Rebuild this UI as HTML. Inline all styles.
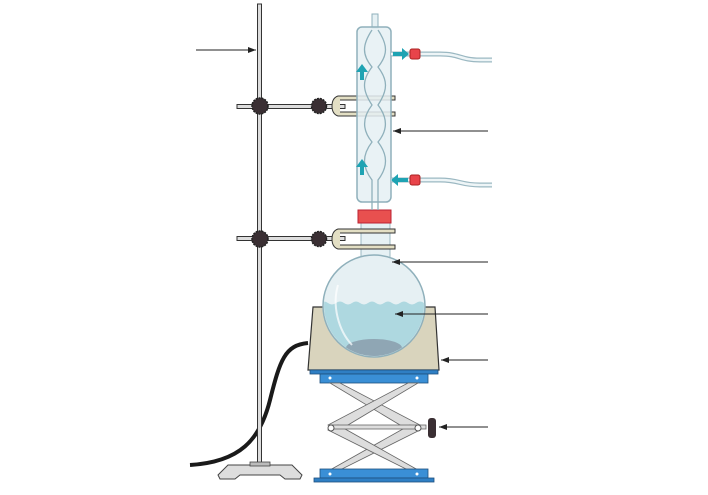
<!DOCTYPE html>
<html><head><meta charset="utf-8"><style>html,body{margin:0;padding:0;background:#fff}svg{display:block}</style></head>
<body>
<svg width="708" height="495" viewBox="0 0 708 495" xmlns="http://www.w3.org/2000/svg">
<defs>
<marker id="ah" markerWidth="8" markerHeight="6" refX="8" refY="3" orient="auto" markerUnits="userSpaceOnUse"><path d="M0,0 L8,3 L0,6 z" fill="#222"/></marker>
</defs>
<!-- cable -->
<path d="M308,343 C285,345 280,360 270,400 C260,440 240,462 190,465" fill="none" stroke="#1a1a1a" stroke-width="4"/>
<!-- stand rod -->
<rect x="257.5" y="4" width="4" height="462" fill="#ddd" stroke="#333" stroke-width="1"/>
<path d="M218,475 L228,465 L292,465 L302,475 L300,479 L285,479 L280,475 L240,475 L235,479 L220,479 Z" fill="#ddd" stroke="#444" stroke-width="1"/>
<rect x="250" y="462" width="20" height="4" fill="#bbb" stroke="#444" stroke-width="0.8"/>
<!-- clamp rods -->
<g stroke="#333" stroke-width="1" fill="#ddd">
<rect x="237" y="104.5" width="108" height="4"/>
<rect x="237" y="236.5" width="108" height="4"/>
</g>
<g fill="#3a2f33" stroke="#222" stroke-width="1.5" stroke-dasharray="2 1">
<circle cx="260" cy="106" r="8"/><circle cx="319" cy="106" r="7.5"/>
<circle cx="260" cy="239" r="8"/><circle cx="319" cy="239" r="7.5"/>
</g>
<!-- flask -->
<rect x="361" y="218" width="29" height="40" fill="#e6f1f4" stroke="#9bb8c2" stroke-width="1"/>
<!-- hot plate -->
<path d="M313,307 L435,307 L439,370 L308,370 Z" fill="#d9d4bd" stroke="#333" stroke-width="1.2"/>
<clipPath id="fl"><circle cx="374" cy="306" r="50"/></clipPath>
<circle cx="374" cy="306" r="51" fill="#e6f0f3" stroke="#8fb0bb" stroke-width="1.5"/>
<g clip-path="url(#fl)">
<path d="M320,303 q4,-3 8,0 q4,3 8,0 q4,-3 8,0 q4,3 8,0 q4,-3 8,0 q4,3 8,0 q4,-3 8,0 q4,3 8,0 q4,-3 8,0 q4,3 8,0 q4,-3 8,0 q4,3 8,0 q4,-3 8,0 L430,360 L320,360 Z" fill="#aed8e0"/>
<ellipse cx="374" cy="348" rx="28" ry="9" fill="#8fa6b4"/>
</g>
<path d="M338,285 C332,305 338,330 352,345" fill="none" stroke="#fff" stroke-width="2" opacity="0.7"/>
<!-- red stopper -->
<rect x="358" y="210" width="33" height="13" fill="#e8504f" stroke="#b23" stroke-width="1"/>
<!-- clamp forks -->
<g stroke="#333" stroke-width="1">
<path d="M340,100 L395,100 L395,96 L338,96 Q332,98 332,106 Q332,114 338,116 L395,116 L395,112 L340,112" fill="#e3dfc4"/>
<path d="M340,233 L395,233 L395,229 L338,229 Q332,231 332,239 Q332,247 338,249 L395,249 L395,245 L340,245" fill="#e3dfc4"/>
</g>
<!-- condenser -->
<rect x="372" y="14" width="6" height="14" fill="#e6f1f4" stroke="#8fb0bb"/>
<rect x="357" y="27" width="34" height="175" rx="5" fill="#e5f0f3" stroke="#8fb0bb" stroke-width="1.5" fill-opacity="0.85"/>
<path d="M372,30 C362,45 362,55 372,67 C362,80 362,90 372,105 C362,118 362,130 372,142 C362,155 362,167 372,180 L372,210 M378,30 C388,45 388,55 378,67 C388,80 388,90 378,105 C388,118 388,130 378,142 C388,155 388,167 378,180 L378,210" fill="none" stroke="#8fb0bb" stroke-width="1.3"/>
<!-- side tubes -->
<path d="M391,54 L412,54 M420,54 L440,54 C460,54 460,60 480,60 L492,60" fill="none" stroke="#9bb8c2" stroke-width="5"/>
<path d="M391,54 L412,54 M420,54 L440,54 C460,54 460,60 480,60 L492,60" fill="none" stroke="#eef5f7" stroke-width="2.5"/>
<path d="M391,180 L412,180 M420,180 L440,180 C460,180 460,185 480,185 L492,185" fill="none" stroke="#9bb8c2" stroke-width="5"/>
<path d="M391,180 L412,180 M420,180 L440,180 C460,180 460,185 480,185 L492,185" fill="none" stroke="#eef5f7" stroke-width="2.5"/>
<rect x="410" y="49" width="10" height="10" rx="2" fill="#e8444a" stroke="#a22"/>
<rect x="410" y="175" width="10" height="10" rx="2" fill="#e8444a" stroke="#a22"/>
<!-- teal arrows -->
<g fill="#1fa3b3">
<path d="M393,52 L402,52 L402,48 L409,54 L402,60 L402,56 L393,56 Z"/>
<path d="M408,178 L398,178 L398,174 L391,180 L398,186 L398,182 L408,182 Z"/>
<path d="M360,80 L360,72 L356,72 L362,64 L368,72 L364,72 L364,80 Z"/>
<path d="M360,175 L360,167 L356,167 L362,159 L368,167 L364,167 L364,175 Z"/>
</g>
<!-- lab jack -->
<rect x="310" y="370" width="128" height="4" fill="#2f7fc4" stroke="#1d4f7e" stroke-width="0.8"/>
<rect x="320" y="374" width="108" height="9" fill="#3a8fd6" stroke="#1d4f7e" stroke-width="0.8"/>
<g stroke="#666" stroke-width="0.8" fill="#ddd">
<path d="M330,383 L340,383 L420,425 L410,431 Z"/>
<path d="M418,383 L408,383 L328,425 L338,431 Z"/>
<path d="M330,470 L340,470 L420,430 L410,425 Z"/>
<path d="M418,470 L408,470 L328,430 L338,425 Z"/>
<rect x="330" y="425" width="96" height="4"/>
</g>
<circle cx="331" cy="428" r="3" fill="#fff" stroke="#555"/>
<circle cx="418" cy="428" r="3" fill="#fff" stroke="#555"/>
<rect x="428" y="418" width="8" height="20" rx="3" fill="#3a2f33"/>
<rect x="320" y="469" width="108" height="9" fill="#3a8fd6" stroke="#1d4f7e" stroke-width="0.8"/>
<rect x="314" y="478" width="120" height="4" fill="#2f7fc4" stroke="#1d4f7e" stroke-width="0.8"/>
<g fill="#fff"><circle cx="330" cy="378" r="1.5"/><circle cx="417" cy="378" r="1.5"/><circle cx="330" cy="474" r="1.5"/><circle cx="417" cy="474" r="1.5"/></g>
<!-- label arrows -->
<g stroke="#222" stroke-width="1" marker-end="url(#ah)">
<line x1="196" y1="50" x2="256" y2="50"/>
<line x1="488" y1="131" x2="393" y2="131"/>
<line x1="488" y1="262" x2="392" y2="262"/>
<line x1="488" y1="314" x2="395" y2="314"/>
<line x1="488" y1="360" x2="441" y2="360"/>
<line x1="488" y1="427" x2="439" y2="427"/>
</g>
</svg>
</body></html>
